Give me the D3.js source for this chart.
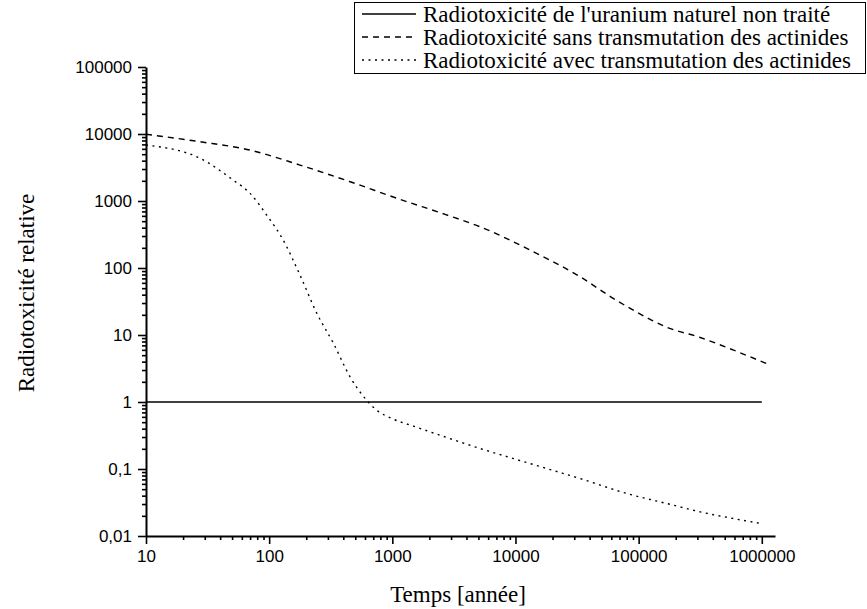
<!DOCTYPE html>
<html>
<head>
<meta charset="utf-8">
<title>Radiotoxicité relative</title>
<style>
  body { margin: 0; background: #fff; }
</style>
</head>
<body>
<svg width="867" height="609"></svg>
<script src="https://d3js.org/d3.v7.min.js"></script>
<script>

// temps (années) / radiotoxicité relative
var uraniumT = [10, 1000000];
var uraniumV = [1, 1];

var sansT = [10, 27.5, 70, 178, 454, 1156, 2683, 5164, 13150, 33550, 62200, 90400, 169800, 316000, 590000, 1170000];
var sansV = [9900, 7660, 5750, 3440, 1940, 1057, 631, 412, 185, 73.8, 35.2, 23.5, 13.0, 9.18, 5.94, 3.55];

var avecT = [10, 27.5, 51, 70, 95.5, 130, 178, 244, 333, 454, 601, 748, 991, 1484, 2770, 5164, 9640, 17990, 33550, 80400, 169800, 316000, 590000, 1000000];
var avecV = [6840, 4330, 2050, 1300, 617, 261, 78.3, 21.0, 7.48, 2.37, 1.13, 0.754, 0.567, 0.436, 0.295, 0.202, 0.143, 0.1015, 0.072, 0.043, 0.0305, 0.0229, 0.0182, 0.0153];

var xTicks = [10, 100, 1000, 10000, 100000, 1000000];
var xTickLabels = ["10", "100", "1000", "10000", "100000", "1000000"];
var yTicks = [0.01, 0.1, 1, 10, 100, 1000, 10000, 100000];
var yTickLabels = ["0,01", "0,1", "1", "10", "100", "1000", "10000", "100000"];

var legendLabels = [
  "Radiotoxicité de l'uranium naturel non traité",
  "Radiotoxicité sans transmutation des actinides",
  "Radiotoxicité avec transmutation des actinides"
];
var dashes = [null, "6,5", "2,4.5"];

var serif = "'Liberation Serif', 'Times New Roman', serif";
var sans = "'Liberation Sans', Arial, sans-serif";

var svg = d3.select("svg");

var x = d3.scaleLog().domain([10, 1280000]).range([146, 775]);
var y = d3.scaleLog().domain([0.01, 100000]).range([536, 67]);

// ticks mineurs 2..9 par décade
function minors(lo, hi) {
  var out = [];
  for (var d = lo; d < hi; d *= 10)
    for (var k = 2; k <= 9; k++) if (d * k <= hi) out.push(d * k);
  return out;
}

svg.append("g")
    .attr("transform", "translate(0,536)")
    .call(d3.axisBottom(x).tickValues(minors(10, 1000000)).tickSize(4).tickFormat(""))
    .call(function(g) { g.select(".domain").remove(); });

svg.append("g")
    .attr("transform", "translate(146,0)")
    .call(d3.axisLeft(y).tickValues(minors(0.01, 100000)).tickSize(4).tickFormat(""))
    .call(function(g) { g.select(".domain").remove(); });

svg.append("g")
    .attr("transform", "translate(0,536)")
    .call(d3.axisBottom(x).tickValues(xTicks).tickSize(8).tickSizeOuter(0).tickPadding(6)
      .tickFormat(function(d, i) { return xTickLabels[i]; }));

svg.append("g")
    .attr("transform", "translate(146,0)")
    .call(d3.axisLeft(y).tickValues(yTicks).tickSize(8).tickSizeOuter(0).tickPadding(6)
      .tickFormat(function(d, i) { return yTickLabels[i]; }));

svg.selectAll(".domain").attr("stroke-width", 2);
svg.selectAll(".tick line").attr("stroke-width", 1.6);
svg.selectAll(".tick text")
    .style("font-family", sans)
    .style("font-size", "17px")
    .attr("fill", "#000");

var line = d3.line()
    .x(function(d) { return x(d[0]); })
    .y(function(d) { return y(d[1]); })
    .curve(d3.curveMonotoneX);

var series = [
  d3.zip(uraniumT, uraniumV),
  d3.zip(sansT, sansV),
  d3.zip(avecT, avecV)
];

svg.selectAll(".serie")
  .data(series)
  .enter().append("path")
    .attr("class", "serie")
    .attr("fill", "none")
    .attr("stroke", "#000")
    .attr("stroke-width", function(d, i) { return i == 0 ? 1.6 : 1.4; })
    .attr("stroke-dasharray", function(d, i) { return dashes[i]; })
    .attr("d", line);

// titres des axes
svg.append("text")
    .attr("x", 458)
    .attr("y", 602)
    .attr("text-anchor", "middle")
    .style("font-family", serif)
    .style("font-size", "23px")
    .text("Temps [année]");

svg.append("text")
    .attr("transform", "translate(34,293) rotate(-90)")
    .attr("text-anchor", "middle")
    .style("font-family", serif)
    .style("font-size", "23px")
    .text("Radiotoxicité relative");

// légende
var legend = svg.append("g");

legend.append("rect")
    .attr("x", 354.5).attr("y", 2.5)
    .attr("width", 511).attr("height", 71)
    .attr("fill", "#fff")
    .attr("stroke", "#000");

var rows = legend.selectAll(".row")
  .data(legendLabels)
  .enter().append("g")
    .attr("class", "row")
    .attr("transform", function(d, i) { return "translate(0," + (14 + i * 23) + ")"; });

rows.append("line")
    .attr("x1", 362).attr("x2", 416)
    .attr("stroke", "#000")
    .attr("stroke-width", 1.4)
    .attr("stroke-dasharray", function(d, i) { return dashes[i]; });

rows.append("text")
    .attr("x", 423)
    .attr("dy", "0.33em")
    .style("font-family", serif)
    .style("font-size", "23px")
    .attr("fill", "#000")
    .text(function(d) { return d; });

</script>
</body>
</html>
